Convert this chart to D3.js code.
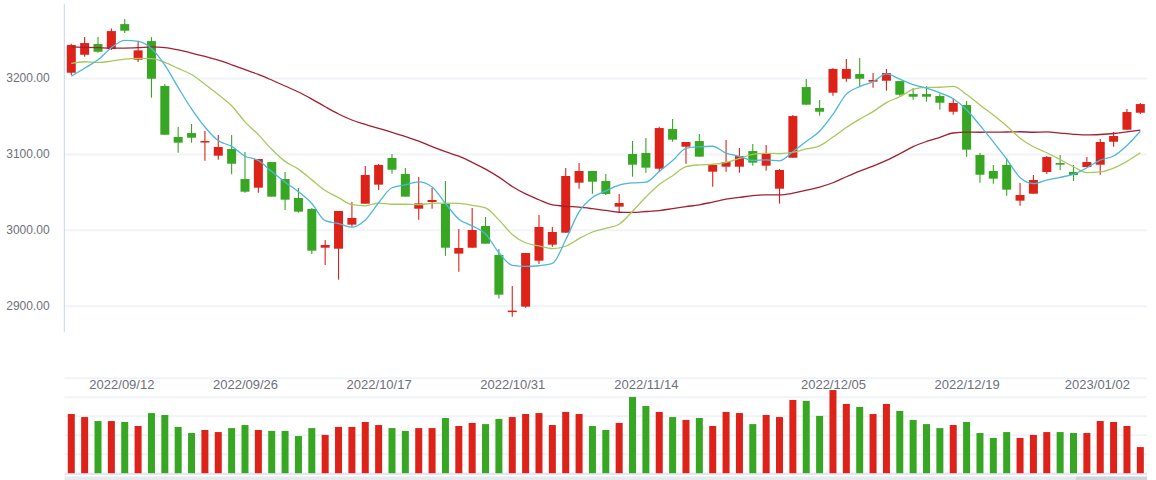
<!DOCTYPE html>
<html><head><meta charset="utf-8">
<script src="https://cdn.jsdelivr.net/npm/d3@7"></script>
<style>html,body{margin:0;padding:0;background:#fff;overflow:hidden}svg{display:block;font-family:"Liberation Sans",Arial,sans-serif}</style>
</head><body><svg id="c" width="1156" height="480"></svg>
<script>
const dates = [
"2022/09/06","2022/09/07","2022/09/08","2022/09/09","2022/09/13","2022/09/14","2022/09/15","2022/09/16","2022/09/19","2022/09/20",
"2022/09/21","2022/09/22","2022/09/23","2022/09/26","2022/09/27","2022/09/28","2022/09/29","2022/09/30","2022/10/10","2022/10/11",
"2022/10/12","2022/10/13","2022/10/14","2022/10/17","2022/10/18","2022/10/19","2022/10/20","2022/10/21","2022/10/24","2022/10/25",
"2022/10/26","2022/10/27","2022/10/28","2022/10/31","2022/11/01","2022/11/02","2022/11/03","2022/11/04","2022/11/07","2022/11/08",
"2022/11/09","2022/11/10","2022/11/11","2022/11/14","2022/11/15","2022/11/16","2022/11/17","2022/11/18","2022/11/21","2022/11/22",
"2022/11/23","2022/11/24","2022/11/25","2022/11/28","2022/11/29","2022/12/01","2022/12/02","2022/12/05","2022/12/06","2022/12/07",
"2022/12/08","2022/12/09","2022/12/12","2022/12/13","2022/12/14","2022/12/15","2022/12/16","2022/12/19","2022/12/20","2022/12/21",
"2022/12/22","2022/12/23","2022/12/26","2022/12/27","2022/12/28","2022/12/29","2022/12/30","2023/01/03","2023/01/04","2023/01/05",
"2023/01/06"];
const opens = [
3207.0,3230.7,3244.8,3238.2,3271.1,3224.2,3248.7,3189.5,3122.3,3127.5,
3115.3,3097.7,3106.5,3066.9,3055.5,3089.3,3066.9,3041.9,3027.4,2976.4,
2975.1,3006.8,3034.4,3059.5,3094.6,3073.5,3027.8,3036.6,3034.4,2968.6,
2976.4,3005.0,2966.8,2891.7,2898.7,2959.3,2980.4,2996.2,3062.1,3077.5,
3064.3,3030.5,3099.9,3101.2,3080.5,3132.8,3109.5,3117.0,3076.6,3083.2,
3083.2,3103.8,3084.5,3054.2,3095.0,3188.1,3160.5,3180.7,3199.1,3205.3,
3195.2,3196.5,3196.0,3178.9,3178.9,3176.3,3155.6,3164.4,3098.6,3077.5,
3085.4,3038.4,3047.6,3076.2,3088.0,3076.2,3082.7,3085.8,3116.1,3131.9,
3154.3];
const closes = [
3243.5,3246.1,3234.7,3261.9,3262.4,3236.5,3199.1,3125.3,3114.8,3121.4,
3117.0,3109.1,3087.1,3050.2,3093.3,3043.7,3039.7,3023.9,2972.5,2980.0,
3024.8,3015.6,3072.2,3085.4,3079.2,3043.7,3034.8,3039.3,2976.4,2976.0,
2999.7,2981.7,2914.5,2893.5,2969.4,3003.7,2997.1,3070.9,3077.5,3063.4,
3047.2,3035.3,3085.8,3081.9,3134.1,3118.8,3115.7,3096.4,3085.4,3089.3,
3097.2,3088.5,3100.3,3078.8,3149.9,3164.9,3155.6,3211.9,3211.9,3199.1,
3197.4,3206.6,3178.0,3175.4,3175.4,3167.5,3167.1,3105.6,3072.6,3067.4,
3052.9,3045.9,3065.6,3095.9,3085.8,3072.2,3089.3,3115.7,3123.6,3155.2,
3165.7];
const highs = [
3245.3,3254.0,3254.0,3265.4,3277.7,3249.2,3254.0,3192.1,3135.4,3139.4,
3130.2,3124.9,3124.9,3102.5,3093.3,3089.3,3076.2,3055.1,3028.7,2986.6,
3024.8,3036.6,3084.1,3086.7,3099.9,3081.4,3069.6,3055.1,3064.3,3001.1,
3028.7,3016.9,2974.7,2925.9,2969.4,3019.5,3003.7,3081.4,3088.0,3077.5,
3073.5,3047.2,3117.0,3121.0,3135.9,3146.0,3115.7,3126.2,3085.4,3118.3,
3107.8,3113.0,3111.7,3080.1,3151.3,3198.7,3171.0,3213.2,3225.0,3226.4,
3206.6,3211.9,3196.0,3186.8,3189.5,3178.9,3173.6,3169.7,3101.2,3085.4,
3094.6,3061.7,3072.2,3097.2,3098.6,3085.4,3095.9,3119.6,3128.9,3159.2,
3167.1];
const lows = [
3203.9,3228.1,3233.4,3236.9,3259.3,3221.1,3174.1,3125.3,3101.6,3114.8,
3091.1,3092.4,3073.1,3048.9,3048.9,3043.7,3026.1,3022.6,2968.1,2953.6,
2934.3,3004.1,3034.4,3052.4,3074.0,3043.7,3013.4,3027.8,2965.9,2944.8,
2976.4,2981.7,2909.3,2885.5,2897.4,2954.9,2977.8,2996.2,3054.2,3047.6,
3045.9,3022.6,3070.0,3075.3,3075.7,3116.1,3087.1,3096.4,3056.8,3076.6,
3075.3,3084.5,3077.9,3034.4,3095.0,3164.9,3150.4,3176.7,3195.2,3188.6,
3187.3,3183.3,3176.7,3171.5,3168.8,3158.3,3151.7,3096.4,3062.1,3060.8,
3045.0,3031.8,3047.6,3073.5,3078.8,3064.3,3082.7,3072.6,3109.5,3131.9,
3152.6];
const volumes = [
312,296,275,275,270,249,317,307,244,212,
228,217,238,254,228,223,223,196,238,202,
244,244,270,254,238,223,238,238,291,249,
265,259,286,296,312,317,254,323,312,249,
228,265,402,354,323,296,281,291,249,323,
317,259,307,296,386,381,302,438,365,349,
312,365,328,281,259,238,254,270,212,186,
217,186,202,217,217,212,212,275,270,249,
138];
const ma5 = [
3202.5,3213.0,3224.0,3240.0,3249.7,3248.3,3238.9,3217.0,3187.6,3159.4,
3135.5,3117.5,3109.9,3097.0,3091.3,3076.7,3062.8,3050.2,3034.6,3012.0,
3008.2,3003.4,3013.0,3035.6,3055.4,3059.2,3063.1,3056.5,3034.7,3014.0,
3005.2,2994.6,2969.7,2953.1,2951.8,2952.6,2955.6,2986.9,3023.7,3042.5,
3051.2,3058.9,3061.8,3062.7,3076.9,3091.2,3107.3,3109.4,3110.1,3101.1,
3096.8,3091.4,3092.1,3090.8,3102.9,3116.5,3129.9,3152.2,3178.8,3188.7,
3195.2,3205.4,3198.6,3191.3,3186.6,3180.6,3172.7,3158.2,3137.6,3116.0,
3093.1,3068.9,3060.9,3065.5,3069.2,3073.1,3081.8,3091.8,3097.3,3111.2,
3129.9];
const ma10 = [
3219.3,3221.5,3220.6,3222.4,3225.0,3225.9,3225.5,3220.6,3212.7,3204.6,
3191.9,3178.2,3163.5,3142.3,3125.4,3106.1,3090.2,3080.0,3065.8,3051.7,
3042.4,3033.1,3031.6,3035.1,3033.7,3033.7,3033.2,3034.8,3035.1,3034.7,
3032.2,3028.8,3013.1,2993.9,2982.9,2978.9,2975.1,2978.3,2988.4,2997.1,
3001.9,3007.3,3024.4,3043.2,3059.7,3071.2,3083.1,3085.6,3086.4,3089.0,
3094.0,3099.3,3100.8,3100.5,3102.0,3106.6,3110.6,3122.2,3134.8,3145.8,
3155.8,3167.6,3175.4,3185.1,3187.6,3187.9,3189.0,3178.4,3164.5,3151.3,
3136.9,3120.8,3109.5,3101.6,3092.6,3083.1,3075.3,3076.3,3081.4,3090.2,
3101.5];
const ma30 = [
3241.0,3240.5,3240.0,3239.5,3239.5,3240.0,3241.0,3240.0,3237.0,3233.0,
3228.5,3223.5,3217.5,3211.0,3204.8,3197.4,3189.5,3181.6,3172.3,3162.2,
3152.6,3144.7,3139.0,3133.7,3128.4,3122.7,3117.0,3109.5,3102.9,3097.0,
3088.9,3080.0,3069.4,3057.1,3047.3,3039.6,3032.8,3031.0,3029.8,3027.8,
3025.5,3023.1,3023.0,3024.1,3025.4,3027.9,3030.5,3032.9,3036.6,3040.3,
3042.7,3045.1,3046.1,3045.9,3048.2,3052.2,3056.3,3062.0,3069.9,3077.3,
3083.9,3091.4,3100.2,3109.6,3116.4,3121.9,3127.6,3128.7,3128.6,3128.7,
3128.9,3129.2,3128.6,3129.0,3127.4,3125.9,3125.0,3125.6,3126.9,3129.1,
3131.4];
const priceTicks = [2900, 3000, 3100, 3200];
const volumeTicks = [0, 100, 200, 300, 400, 500];
const dateTicks = ["2022/09/12","2022/09/26","2022/10/17","2022/10/31","2022/11/14","2022/12/05","2022/12/19","2023/01/02"];

const UP = "#dc2219", DOWN = "#37a723";
const svg = d3.select("#c");
const plotL = 64.6, plotR = 1147.0;
const x = d3.scaleBand().domain(dates).range([plotL, plotR]).padding(0);
const bw = x.bandwidth();
const cx = d => x(d) + bw / 2;
const y = d3.scaleLinear().domain([2865.3, 3297.6]).range([332, 4]);
const vy = d3.scaleLinear().domain([0, 500]).range([473.3, 378.3]);
const parse = d3.timeParse("%Y/%m/%d");
const xt = d3.scaleLinear().domain(dates.map(d => +parse(d))).range(dates.map(cx));

// price grid + labels
const ga = svg.append("g").attr("transform", `translate(${plotL},0)`)
  .call(d3.axisLeft(y).tickValues(priceTicks).tickFormat(d3.format(".2f"))
    .tickSizeInner(-(plotR - plotL)).tickSizeOuter(0).tickPadding(15));
ga.select(".domain").remove();
ga.selectAll(".tick line").attr("stroke", "#f0f3f7").attr("stroke-width", 2);
ga.selectAll(".tick text").attr("fill", "#6e7079").style("font-size", "12px")
  .style("font-family", '"Liberation Sans", Arial, sans-serif');

// volume grid
svg.append("g").selectAll("line").data(volumeTicks).join("line")
  .attr("x1", plotL).attr("x2", plotR).attr("y1", d => vy(d)).attr("y2", d => vy(d))
  .attr("stroke", "#f0f3f7").attr("stroke-width", 2);

// y axis line
svg.append("line").attr("x1", 64.3).attr("x2", 64.3).attr("y1", y(3297.6)).attr("y2", y(2865.3))
  .attr("stroke", "#c6d4ea").attr("stroke-width", 1);

// volume bars
const idx = d3.range(dates.length);
svg.append("g").selectAll("rect").data(idx).join("rect")
  .attr("x", i => cx(dates[i]) - 3.5).attr("width", 7)
  .attr("y", i => vy(volumes[i])).attr("height", i => vy(0) - vy(volumes[i]))
  .attr("fill", i => closes[i] >= opens[i] ? UP : DOWN);

// volume axis line & slider strip
svg.append("line").attr("x1", plotL).attr("x2", plotR).attr("y1", vy(0) + 0.7).attr("y2", vy(0) + 0.7)
  .attr("stroke", "#d3d9e4").attr("stroke-width", 1);
svg.append("rect").attr("x", plotL).attr("y", 476.5).attr("width", plotR - plotL).attr("height", 4).attr("fill", "#e6e9ee");
svg.append("rect").attr("x", 1076).attr("y", 476.5).attr("width", plotR - 1076).attr("height", 4).attr("fill", "#cfd4dc");

// candles
const cg = svg.append("g");
cg.selectAll("line").data(idx).join("line")
  .attr("x1", i => cx(dates[i])).attr("x2", i => cx(dates[i]))
  .attr("y1", i => y(highs[i])).attr("y2", i => y(lows[i]))
  .attr("stroke", i => closes[i] >= opens[i] ? UP : DOWN).attr("stroke-width", 1.1);
cg.selectAll("rect").data(idx).join("rect")
  .attr("x", i => cx(dates[i]) - 4.5).attr("width", 9)
  .attr("y", i => y(Math.max(opens[i], closes[i])))
  .attr("height", i => Math.max(1.5, Math.abs(y(opens[i]) - y(closes[i]))))
  .attr("fill", i => closes[i] >= opens[i] ? UP : DOWN);

// moving averages
const line = d3.line().x((d, i) => cx(dates[i])).y(d => y(d)).curve(d3.curveMonotoneX);
[[ma30, "#a3202f"], [ma10, "#a6c95c"], [ma5, "#4cb8da"]].forEach(([s, c]) => {
  svg.append("path").attr("d", line(s)).attr("fill", "none").attr("stroke", c).attr("stroke-width", 1.3);
});

// date labels
const gx = svg.append("g").attr("transform", "translate(0,384)")
  .call(d3.axisBottom(xt).tickValues(dateTicks.map(parse)).tickSize(0).tickPadding(0)
    .tickFormat(d3.timeFormat("%Y/%m/%d")));
gx.select(".domain").remove();
gx.selectAll(".tick text").attr("y", 0).attr("dy", "0.35em").attr("fill", "#6e7079")
  .style("font-size", "13px").style("font-family", '"Liberation Sans", Arial, sans-serif');
</script></body></html>
